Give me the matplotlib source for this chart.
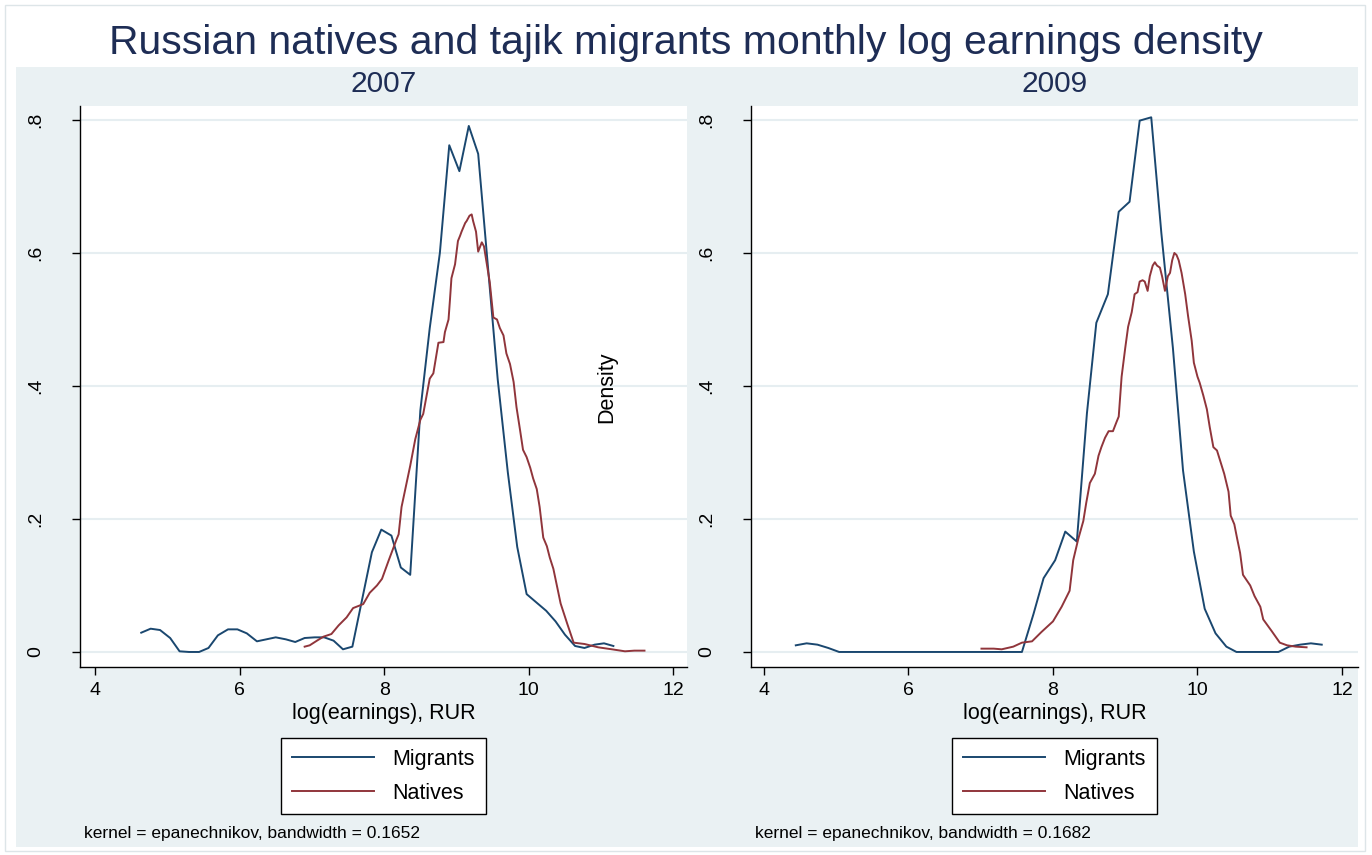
import matplotlib.pyplot as plt
from matplotlib.patches import Rectangle

plt.rcParams['font.family'] = ['Liberation Sans', 'DejaVu Sans']

# kernel density estimates read per year: (log earnings, density)
mig07_x = [4.64, 4.77, 4.90, 5.04, 5.17, 5.30, 5.44, 5.57, 5.70, 5.84, 5.97, 6.10, 6.24,
           6.37, 6.50, 6.64, 6.77, 6.90, 7.04, 7.17, 7.30, 7.43, 7.56, 7.83, 7.96, 8.10,
           8.23, 8.36, 8.50, 8.63, 8.77, 8.90, 9.04, 9.17, 9.30, 9.44, 9.57, 9.71, 9.84,
           9.97, 10.11, 10.24, 10.37, 10.50, 10.64, 10.77, 10.91, 11.04, 11.17]
mig07_y = [0.029, 0.035, 0.033, 0.021, 0.001, 0.000, 0.000, 0.006, 0.025, 0.034, 0.034,
           0.028, 0.016, 0.019, 0.022, 0.019, 0.015, 0.021, 0.022, 0.022, 0.017, 0.004,
           0.008, 0.150, 0.184, 0.175, 0.127, 0.116, 0.363, 0.487, 0.600, 0.762, 0.723,
           0.791, 0.749, 0.573, 0.410, 0.270, 0.158, 0.087, 0.074, 0.062, 0.046, 0.026,
           0.009, 0.006, 0.011, 0.013, 0.009]

nat07_x = [6.90, 6.97, 7.07, 7.16, 7.27, 7.37, 7.48, 7.57, 7.71, 7.80, 7.90, 7.97, 8.06,
           8.17, 8.20, 8.24, 8.36, 8.43, 8.50, 8.54, 8.63, 8.68, 8.75, 8.82, 8.84, 8.89,
           8.91, 8.93, 8.98, 9.02, 9.05, 9.07, 9.12, 9.14, 9.18, 9.21, 9.23, 9.27, 9.30,
           9.35, 9.38, 9.42, 9.46, 9.51, 9.56, 9.60, 9.65, 9.69, 9.74, 9.79, 9.83, 9.88,
           9.92, 9.97, 10.02, 10.06, 10.11, 10.15, 10.20, 10.25, 10.29, 10.34, 10.44,
           10.53, 10.62, 10.77, 10.96, 11.15, 11.33, 11.46, 11.60]
nat07_y = [0.008, 0.010, 0.017, 0.023, 0.027, 0.040, 0.052, 0.066, 0.072, 0.089, 0.100,
           0.110, 0.137, 0.169, 0.177, 0.218, 0.280, 0.320, 0.349, 0.358, 0.411, 0.419,
           0.465, 0.466, 0.481, 0.500, 0.530, 0.562, 0.583, 0.618, 0.626, 0.632, 0.645,
           0.648, 0.656, 0.658, 0.648, 0.632, 0.602, 0.616, 0.610, 0.583, 0.556, 0.503,
           0.500, 0.487, 0.476, 0.449, 0.433, 0.406, 0.368, 0.333, 0.304, 0.293, 0.277,
           0.261, 0.245, 0.218, 0.172, 0.159, 0.142, 0.125, 0.073, 0.043, 0.014, 0.012,
           0.007, 0.004, 0.001, 0.002, 0.002]

mig09_x = [4.44, 4.59, 4.74, 4.89, 5.04, 6.00, 7.00, 7.57, 7.73, 7.87, 8.03, 8.17, 8.33,
           8.47, 8.60, 8.76, 8.91, 9.06, 9.20, 9.36, 9.50, 9.66, 9.80, 9.95, 10.10, 10.25,
           10.40, 10.54, 11.12, 11.27, 11.42, 11.57, 11.72]
mig09_y = [0.010, 0.013, 0.011, 0.006, 0.000, 0.000, 0.000, 0.000, 0.057, 0.111, 0.138,
           0.181, 0.166, 0.359, 0.495, 0.538, 0.662, 0.677, 0.799, 0.804, 0.630, 0.457,
           0.273, 0.151, 0.065, 0.028, 0.008, 0.000, 0.000, 0.008, 0.011, 0.013, 0.011]

nat09_x = [7.01, 7.18, 7.29, 7.45, 7.57, 7.71, 7.84, 8.00, 8.12, 8.23, 8.28, 8.35, 8.42,
           8.46, 8.51, 8.58, 8.63, 8.67, 8.72, 8.77, 8.83, 8.88, 8.91, 8.95, 9.00, 9.04,
           9.09, 9.13, 9.17, 9.20, 9.24, 9.27, 9.31, 9.34, 9.38, 9.41, 9.44, 9.48, 9.51,
           9.55, 9.59, 9.62, 9.65, 9.68, 9.71, 9.74, 9.78, 9.83, 9.87, 9.92, 9.95, 10.00,
           10.03, 10.08, 10.13, 10.17, 10.22, 10.27, 10.31, 10.37, 10.43, 10.46, 10.51,
           10.55, 10.59, 10.63, 10.68, 10.73, 10.79, 10.87, 10.91, 11.03, 11.14, 11.24,
           11.36, 11.51]
nat09_y = [0.005, 0.005, 0.004, 0.008, 0.014, 0.016, 0.030, 0.046, 0.068, 0.092, 0.138,
           0.170, 0.197, 0.224, 0.254, 0.268, 0.295, 0.308, 0.322, 0.332, 0.332, 0.346,
           0.354, 0.414, 0.457, 0.489, 0.511, 0.538, 0.541, 0.557, 0.559, 0.557, 0.543,
           0.565, 0.581, 0.586, 0.581, 0.578, 0.565, 0.543, 0.565, 0.570, 0.589, 0.600,
           0.597, 0.589, 0.570, 0.538, 0.505, 0.468, 0.435, 0.414, 0.405, 0.386, 0.365,
           0.338, 0.308, 0.303, 0.289, 0.268, 0.241, 0.205, 0.192, 0.170, 0.149, 0.116,
           0.108, 0.100, 0.084, 0.068, 0.049, 0.031, 0.014, 0.010, 0.008, 0.007]

years = ['2007', '2009']
bandwidths = ['0.1652', '0.1682']
xticks = [4, 6, 8, 10, 12]
yticks = [0, 0.2, 0.4, 0.6, 0.8]
ytick_labels = ['0', '.2', '.4', '.6', '.8']

W, H = 1372, 855
navy = '#1A476F'
maroon = '#90353B'
panel = '#EAF1F3'
text_col = '#1E2D55'

fig = plt.figure(figsize=(W / 100, H / 100), dpi=100)
fig.patch.set_facecolor('white')

# outer frame and the shaded graph region
fig.add_artist(Rectangle((5 / W, 4 / H), 1360 / W, 846 / H, transform=fig.transFigure,
                         facecolor='none', edgecolor='#DDE5E8', lw=1))
fig.add_artist(Rectangle((16 / W, 8 / H), 1342 / W, 780 / H, transform=fig.transFigure,
                         facecolor=panel, edgecolor='none', zorder=0))

fig.text(686 / W, 1 - 54 / H, 'Russian natives and tajik migrants monthly log earnings density',
         ha='center', va='baseline', fontsize=29.5, color=text_col)

panels = [
    (80, (3.793, 12.188), mig07_x, mig07_y, nat07_x, nat07_y),
    (751, (3.82, 12.222), mig09_x, mig09_y, nat09_x, nat09_y),
]

for i, (left_px, xlim, mx, my, nx, ny) in enumerate(panels):
    ax = fig.add_axes([left_px / W, 1 - 667 / H, 607 / W, 561 / H])
    ax.set_facecolor('white')
    ax.plot(mx, my, color=navy, lw=1.4, label='Migrants')
    ax.plot(nx, ny, color=maroon, lw=1.4, label='Natives')

    ax.set_xlim(*xlim)
    ax.set_ylim(-0.0226, 0.821)
    ax.set_xticks(xticks)
    ax.set_yticks(yticks)
    ax.set_yticklabels(ytick_labels, rotation=90, va='center')
    ax.grid(axis='y', color='#E6EEF1', lw=1.5)
    ax.set_axisbelow(True)
    ax.tick_params(axis='x', length=6, width=1, labelsize=14, pad=5)
    ax.tick_params(axis='y', length=6, width=1, labelsize=14, pad=20)
    for side in ('top', 'right'):
        ax.spines[side].set_visible(False)
    for side in ('left', 'bottom'):
        ax.spines[side].set_linewidth(1)

    ax.set_xlabel('log(earnings), RUR', fontsize=15.5, labelpad=3)
    ax.set_title(years[i], fontsize=21.5, color=text_col, pad=10)

    leg = ax.legend(loc='upper center', bbox_to_anchor=(0.5, -0.1266), borderaxespad=0,
                    fontsize=15.5, frameon=True, fancybox=False, framealpha=1,
                    handlelength=3.8, handletextpad=0.85, labelspacing=0.6, borderpad=0.5)
    leg.get_frame().set_facecolor('white')
    leg.get_frame().set_edgecolor('black')
    leg.get_frame().set_linewidth(1)

    fig.text((left_px + 4) / W, 1 - 833 / H,
             'kernel = epanechnikov, bandwidth = ' + bandwidths[i],
             ha='left', va='center', fontsize=12.5)

fig.text(607 / W, 1 - 387 / H, 'Density', rotation=90, ha='center', va='center', fontsize=15.5)

fig.savefig('out.png', dpi=100)
